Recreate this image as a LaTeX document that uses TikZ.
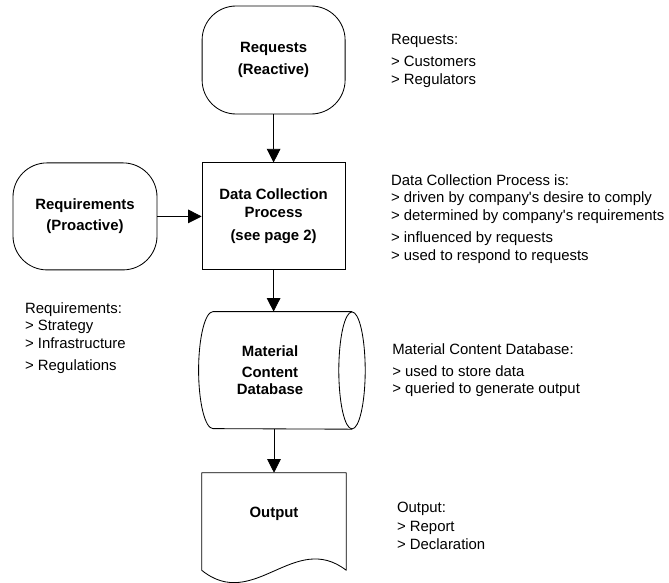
\documentclass[tikz,border=0pt]{standalone}
\usepackage{fontspec}
\setmainfont{Liberation Sans}[Ligatures=TeXOff]
\usetikzlibrary{arrows.meta, calc}

\begin{document}
\begin{tikzpicture}[
    every node/.style={font=\fontsize{10.6}{12.4}\selectfont},
    shapebox/.style={draw, line width=0.6pt, align=center, font=\fontsize{10.6}{12.4}\selectfont\bfseries},
    softbox/.style={shapebox, rounded corners=0.85cm, minimum width=3.575cm, minimum height=2.7cm},
    note/.style={anchor=north west, inner sep=0pt, align=left},
    flow/.style={-{Triangle[width=0.34cm, length=0.34cm]}, line width=0.6pt}
  ]
  \useasboundingbox (0, 0) rectangle (16.725, -14.55);

  % Sources
  \node[softbox] (requests) at (6.84, -1.5) {Requests\\[3pt](Reactive)};
  \node[softbox, minimum width=3.6cm, minimum height=2.675cm] (reqs) at (2.125, -5.41) {Requirements\\[2.5pt](Proactive)};

  % Process
  \node[shapebox, minimum width=3.575cm, minimum height=2.675cm] (collect) at (6.84, -5.41) {Data Collection\\Process\\[4pt](see page 2)};

  % Database (drum)
  \node[align=center, font=\fontsize{10.6}{12.4}\selectfont\bfseries, minimum height=2.925cm] (db) at (6.75, -9.26) {Material\\[2.5pt]Content\\Database};
  \coordinate (dbnw) at ($(db.north)+(-1.425, 0)$);
  \coordinate (dbne) at ($(db.north)+(2.05, 0)$);
  \coordinate (dbse) at ($(db.south)+(2.05, 0)$);
  \coordinate (dbe) at ($(db.center)+(2.05, 0)$);
  \draw[line width=0.6pt] (dbne) -- (dbnw) arc[start angle=90, end angle=270, x radius=0.36, y radius=1.4625] -- (dbse);
  \draw[line width=0.6pt] (dbe) ellipse[x radius=0.33, y radius=1.4625];

  % Output document
  \node[align=center, font=\fontsize{10.6}{12.4}\selectfont\bfseries, minimum width=3.6cm, minimum height=2.05cm] (out) at (6.85, -12.85) {Output};
  \draw[line width=0.6pt, line join=round] (out.north west) -- (out.north east) -- ($(out.south east)+(0, -0.375)$)
    .. controls +(-1.3, 1.0) and +(1.3, -1.05) .. ($(out.south west)+(0, -0.375)$) -- cycle;

  % Arrows
  \draw[flow] (requests.south) -- (collect.north);
  \draw[flow] (reqs.east) -- (collect.west);
  \draw[flow] (collect.south) -- (collect.south |- db.north);
  \draw[flow] (out.north |- db.south) -- (out.north);

  % Notes
  \node[note] (requestsnote) at (9.77, -0.86) {Requests:\\[3pt]> Customers\\> Regulators};
  \node[note] (collectnote) at (9.77, -4.36) {Data Collection Process is:\\> driven by company's desire to comply\\> determined by company's requirements\\[3.5pt]> influenced by requests\\> used to respond to requests};
  \node[note] (reqsnote) at (0.62, -7.56) {Requirements:\\> Strategy\\> Infrastructure\\[3pt]> Regulations};
  \node[note] (dbnote) at (9.8, -8.59) {Material Content Database:\\[3pt]> used to store data\\> queried to generate output};
  \node[note] (outnote) at (9.92, -12.54) {Output:\\[1.5pt]> Report\\> Declaration};
\end{tikzpicture}
\end{document}
